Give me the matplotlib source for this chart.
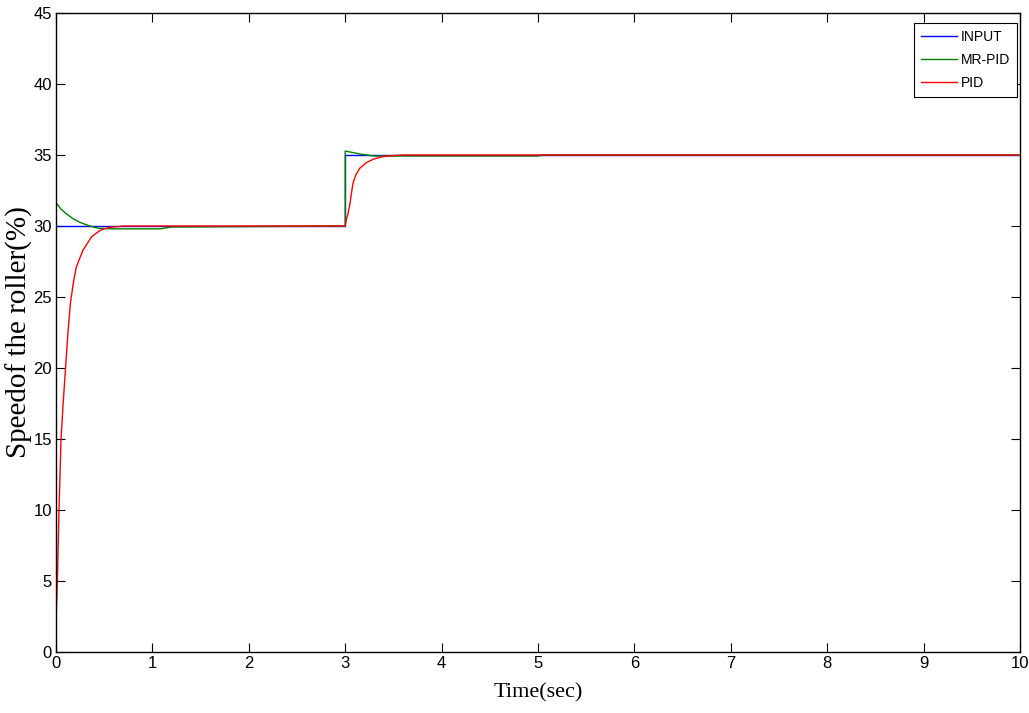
import numpy as np
import matplotlib
matplotlib.use("Agg")
import matplotlib.pyplot as plt

t_input = [0, 3.0, 3.0, 10]
v_input = [30, 30, 35, 35]

t_mrpid = [0, 0, 0.05, 0.10, 0.18, 0.25, 0.35, 0.44, 0.60, 1.08, 1.20, 3.0,
           3.0, 3.08, 3.17, 3.30, 5.0, 5.05, 10]
v_mrpid = [0, 31.65, 31.2, 30.9, 30.5, 30.25, 30.0, 29.84, 29.8, 29.8, 29.93, 30.0,
           35.28, 35.17, 35.05, 34.93, 34.93, 35.0, 35.0]

t_pid = [0, 0.014, 0.031, 0.052, 0.076, 0.10, 0.125, 0.15, 0.18, 0.21, 0.28, 0.37, 0.46, 0.55, 0.70,
         3.0, 3.01, 3.03, 3.05, 3.08, 3.11, 3.15, 3.22, 3.29, 3.36, 3.44, 3.60, 10]
v_pid = [2.0, 5, 10, 15, 17.7, 20.1, 22.6, 24.6, 26.0, 27.1, 28.3, 29.25, 29.7, 29.9, 30.0,
         30.0, 30.4, 30.9, 31.6, 33.0, 33.6, 34.06, 34.46, 34.7, 34.84, 34.93, 35.0, 35.0]

tick_font = ['Liberation Sans', 'DejaVu Sans']
label_font = ['Liberation Serif', 'DejaVu Serif']

fig = plt.figure(figsize=(10.29, 7.13), dpi=100)
ax = fig.add_axes([56 / 1029, 61 / 713, 964 / 1029, 639 / 713])

ax.plot(t_input, v_input, color=(0, 0, 1), lw=1.0, label='INPUT')
ax.plot(t_mrpid, v_mrpid, color=(0, 0.5, 0), lw=1.0, label='MR-PID')
ax.plot(t_pid, v_pid, color=(1, 0, 0), lw=1.0, label='PID')

ax.set_xlim(0, 10)
ax.set_ylim(0, 45)
ax.set_xticks(np.arange(0, 11, 1))
ax.set_yticks(np.arange(0, 46, 5))
ax.tick_params(direction='in', length=6.5, width=0.8, top=True, right=True,
               labelsize=12, pad=3)
for lab in ax.get_xticklabels() + ax.get_yticklabels():
    lab.set_family(tick_font)
for s in ax.spines.values():
    s.set_linewidth(1.0)

ax.set_xlabel('Time(sec)', family=label_font, fontsize=16, labelpad=9)
ax.set_ylabel('Speedof the roller(%)', family=label_font, fontsize=21, labelpad=0)

leg = ax.legend(loc='upper right', bbox_to_anchor=(0.997, 0.984),
                prop={'family': tick_font, 'size': 10}, fancybox=False,
                framealpha=1, edgecolor='black', borderaxespad=0,
                handlelength=2.6, handletextpad=0.3, labelspacing=0.65,
                borderpad=0.5)
leg.get_frame().set_linewidth(0.8)

fig.savefig('out.png', dpi=100)
